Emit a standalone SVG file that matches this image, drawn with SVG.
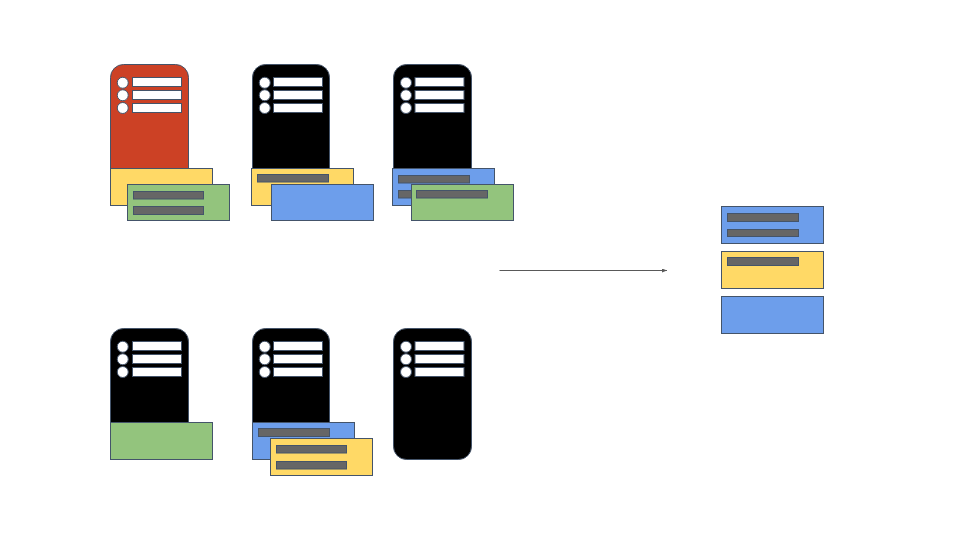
<svg xmlns="http://www.w3.org/2000/svg" width="960" height="540" viewBox="0 0 960 540">
<style>
.o{stroke:#44546a;stroke-width:1}
.k{fill:#000}.r{fill:#cc4125}
.w{fill:#fff}
.y{fill:#ffd966}.g{fill:#93c47d}.b{fill:#6d9eeb}.d{fill:#666}
.l{stroke:#595959;stroke-width:1;fill:none}
</style>
<defs>
<marker id="ah" markerWidth="6" markerHeight="5" refX="5" refY="2" orient="auto" markerUnits="userSpaceOnUse"><path d="M0,0L5,2L0,4Z" fill="#595959"/></marker>
<g id="dots">
<circle class="o w" cx="12.5" cy="18.25" r="5.5"/><circle class="o w" cx="12.5" cy="30.75" r="5.5"/><circle class="o w" cx="12.5" cy="43.5" r="5.5"/>
</g>
<g id="rows">
<rect class="o w" x="22" y="13" width="49" height="9"/><rect class="o w" x="22" y="26" width="49" height="9"/><rect class="o w" x="22" y="39" width="49" height="9"/>
</g>
</defs>
<rect width="960" height="540" fill="#fff"/>
<g id="connectors"><path class="l" d="M499.5 270.5H667" marker-end="url(#ah)"/></g>
<g id="server-1">
<rect class="o r" x="110.5" y="64.5" width="78" height="131" rx="13"/>
<use href="#dots" x="110.25" y="64.5"/><use href="#rows" x="110.5" y="64.5"/>
<rect class="o y" x="110.5" y="168.5" width="102" height="37"/>
<rect class="o g" x="127.5" y="184.5" width="102" height="36"/>
<rect class="o d" x="133.5" y="191.5" width="70" height="7.5"/><rect class="o d" x="133.5" y="206.5" width="70" height="8"/>
</g>
<g id="server-2">
<rect class="o k" x="252.5" y="64.5" width="77" height="131" rx="13"/>
<use href="#dots" x="252.25" y="64.5"/><use href="#rows" x="251.5" y="64.5"/>
<rect class="o y" x="251.5" y="168.5" width="102" height="37"/>
<rect class="o d" x="257.5" y="174.5" width="71" height="7.5"/>
<rect class="o b" x="271.5" y="184.5" width="102" height="36"/>
</g>
<g id="server-3">
<rect class="o k" x="393.5" y="64.5" width="78" height="131" rx="13"/>
<use href="#dots" x="393.5" y="64.5"/><use href="#rows" x="393" y="64.5"/>
<rect class="o b" x="392.5" y="168.5" width="102" height="37"/>
<rect class="o d" x="398.5" y="175.5" width="71" height="7.5"/><rect class="o d" x="398.5" y="190.5" width="71" height="7.5"/>
<rect class="o g" x="411.5" y="184.5" width="102" height="36"/>
<rect class="o d" x="416.5" y="190.5" width="71" height="7.5"/>
</g>
<g id="server-4">
<rect class="o k" x="110.5" y="328.5" width="78" height="131" rx="13"/>
<use href="#dots" x="110.25" y="328.5"/><use href="#rows" x="110.5" y="328.5"/>
<rect class="o g" x="110.5" y="422.5" width="102" height="37"/>
</g>
<g id="server-5">
<rect class="o k" x="252.5" y="328.5" width="77" height="131" rx="13"/>
<use href="#dots" x="252.25" y="328.5"/><use href="#rows" x="251.5" y="328.5"/>
<rect class="o b" x="252.5" y="422.5" width="102" height="37"/>
<rect class="o d" x="258.5" y="428.5" width="71" height="8"/>
<rect class="o y" x="270.5" y="438.5" width="102" height="37"/>
<rect class="o d" x="276.5" y="445.5" width="70" height="7.5"/><rect class="o d" x="276.5" y="461.5" width="70" height="7.5"/>
</g>
<g id="server-6">
<rect class="o k" x="393.5" y="328.5" width="78" height="131" rx="13"/>
<use href="#dots" x="393.5" y="328.5"/><use href="#rows" x="393" y="328.5"/>
</g>
<g id="result-1">
<rect class="o b" x="721.5" y="206.5" width="102" height="37"/>
<rect class="o d" x="727.5" y="213.5" width="71" height="8"/><rect class="o d" x="727.5" y="229.5" width="71" height="7"/>
</g>
<g id="result-2">
<rect class="o y" x="721.5" y="251.5" width="102" height="37"/>
<rect class="o d" x="727.5" y="257.5" width="71" height="8"/>
</g>
<g id="result-3">
<rect class="o b" x="721.5" y="296.5" width="102" height="37"/>
</g>
</svg>
